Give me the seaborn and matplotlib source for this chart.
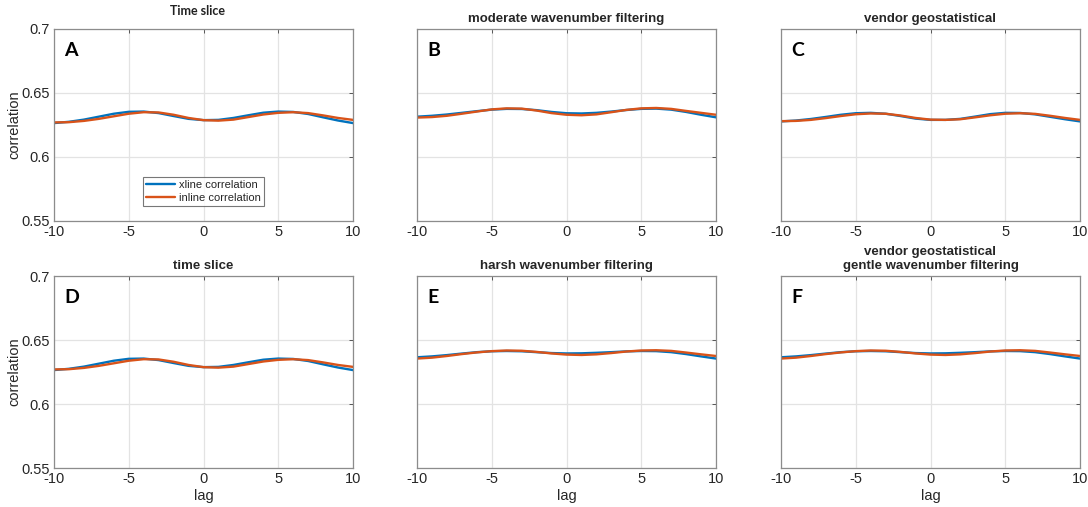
import numpy as np
import pandas as pd
import matplotlib
matplotlib.use("Agg")
import matplotlib.pyplot as plt
import seaborn as sns

lags = list(range(-10, 11))

# Panel A / D (time slice)
xline_time = [.6265, .6275, .6292, .6315, .6338, .6353, .6355, .6343, .6320, .6298, .6288,
              .6290, .6305, .6326, .6346, .6355, .6352, .6336, .6310, .6285, .6265]
inline_time = [.6270, .6272, .6282, .6298, .6318, .6338, .6350, .6348, .6330, .6305, .6288,
               .6284, .6292, .6312, .6332, .6345, .6350, .6343, .6325, .6305, .6290]
# Panel B (moderate wavenumber filtering)
xline_moderate = [.6315, .6322, .6332, .6345, .6358, .6370, .6376, .6375, .6366, .6352, .6342,
                  .6340, .6345, .6355, .6367, .6376, .6378, .6370, .6352, .6330, .6310]
inline_moderate = [.6308, .6312, .6322, .6338, .6355, .6372, .6380, .6378, .6363, .6343, .6330,
                   .6326, .6333, .6350, .6368, .6380, .6383, .6376, .6360, .6345, .6330]
# Panel C (vendor geostatistical)
xline_vendor = [.6278, .6285, .6297, .6313, .6330, .6342, .6345, .6338, .6320, .6300, .6290,
                .6290, .6298, .6316, .6335, .6345, .6344, .6333, .6314, .6295, .6278]
inline_vendor = [.6280, .6282, .6290, .6304, .6320, .6334, .6340, .6338, .6324, .6305, .6292,
                 .6290, .6295, .6310, .6326, .6338, .6342, .6337, .6322, .6305, .6290]
# Panel E / F (harsh / gentle filtering)
xline_harsh = [.6365, .6372, .6382, .6394, .6405, .6412, .6414, .6412, .6405, .6398, .6395,
               .6396, .6400, .6405, .6411, .6414, .6413, .6405, .6390, .6372, .6355]
inline_harsh = [.6355, .6362, .6375, .6390, .6403, .6413, .6418, .6416, .6407, .6395, .6386,
                .6383, .6388, .6398, .6410, .6418, .6420, .6415, .6402, .6388, .6375]

panel_letters = ["A", "B", "C", "D", "E", "F"]
panel_titles = ["Time slice", "moderate wavenumber filtering", "vendor geostatistical",
                "time slice", "harsh wavenumber filtering",
                "vendor geostatistical\ngentle wavenumber filtering"]
panel_data = [(xline_time, inline_time), (xline_moderate, inline_moderate),
              (xline_vendor, inline_vendor), (xline_time, inline_time),
              (xline_harsh, inline_harsh), (xline_harsh, inline_harsh)]
series_names = ["xline correlation", "inline correlation"]
colors = {"xline correlation": "#0072BD", "inline correlation": "#D95319"}
xticks = [-10, -5, 0, 5, 10]
yticks = [0.55, 0.6, 0.65, 0.7]
ytick_labels = ["0.55", "0.6", "0.65", "0.7"]

sns.set_style("white")
plt.rcParams["font.family"] = ["Liberation Sans", "DejaVu Sans"]
plt.rcParams["axes.unicode_minus"] = False

W, H = 1088, 507
fig = plt.figure(figsize=(W / 100, H / 100), dpi=100)

lefts = [54, 417, 781]
tops = [29, 276]
aw, ah = 299, 192

for i in range(6):
    r, c = divmod(i, 3)
    l = lefts[c]
    t = tops[r]
    ax = fig.add_axes([l / W, 1 - (t + ah) / H, aw / W, ah / H])
    xl, il = panel_data[i]
    df = pd.DataFrame({
        "lag": lags * 2,
        "corr": list(xl) + list(il),
        "series": [series_names[0]] * len(lags) + [series_names[1]] * len(lags),
    })
    sns.lineplot(data=df, x="lag", y="corr", hue="series", palette=colors,
                 linewidth=1.7, ax=ax, legend=(i == 0))
    ax.set_xlim(-10, 10)
    ax.set_ylim(0.55, 0.7)
    ax.set_xticks(xticks)
    ax.set_yticks(yticks)
    ax.grid(True, color="#e3e3e3", linewidth=0.9)
    ax.set_axisbelow(True)
    ax.tick_params(direction="in", length=3, width=0.7, color="#555555",
                   top=True, right=True, labelsize=10.5, labelcolor="#262626", pad=3)
    for sp in ax.spines.values():
        sp.set_color("#8c8c8c")
        sp.set_linewidth(0.9)
    if c == 0:
        ax.set_yticklabels(ytick_labels)
        ax.set_ylabel("correlation", fontsize=10.5, color="#262626")
        ax.yaxis.set_label_coords(-0.11, 0.5)
    else:
        ax.set_yticklabels([])
        ax.set_ylabel("")
    if r == 1:
        ax.set_xlabel("lag", fontsize=10.5, color="#262626", labelpad=2)
    else:
        ax.set_xlabel("")
    ax.text(0.035, 0.93, panel_letters[i], transform=ax.transAxes, fontsize=14,
            fontweight="bold", family="Lato", va="top", ha="left", color="black")
    if i == 0:
        ax.text(0.48, 1.0 + 18 / ah, panel_titles[i], transform=ax.transAxes,
                fontsize=9, fontweight="bold", family="Lato", ha="center",
                va="center", color="#222222")
        leg = ax.legend(loc="lower center", bbox_to_anchor=(0.5, 0.05), fontsize=8,
                        frameon=True, fancybox=False, edgecolor="#555555",
                        handlelength=2.6, handletextpad=0.3, borderpad=0.3,
                        labelspacing=0.2, title=None)
        leg.get_frame().set_linewidth(0.8)
    else:
        ax.set_title(panel_titles[i], fontsize=9.5, fontweight="bold",
                     color="#262626", pad=5, linespacing=1.25)

fig.savefig("out.png", dpi=100)
